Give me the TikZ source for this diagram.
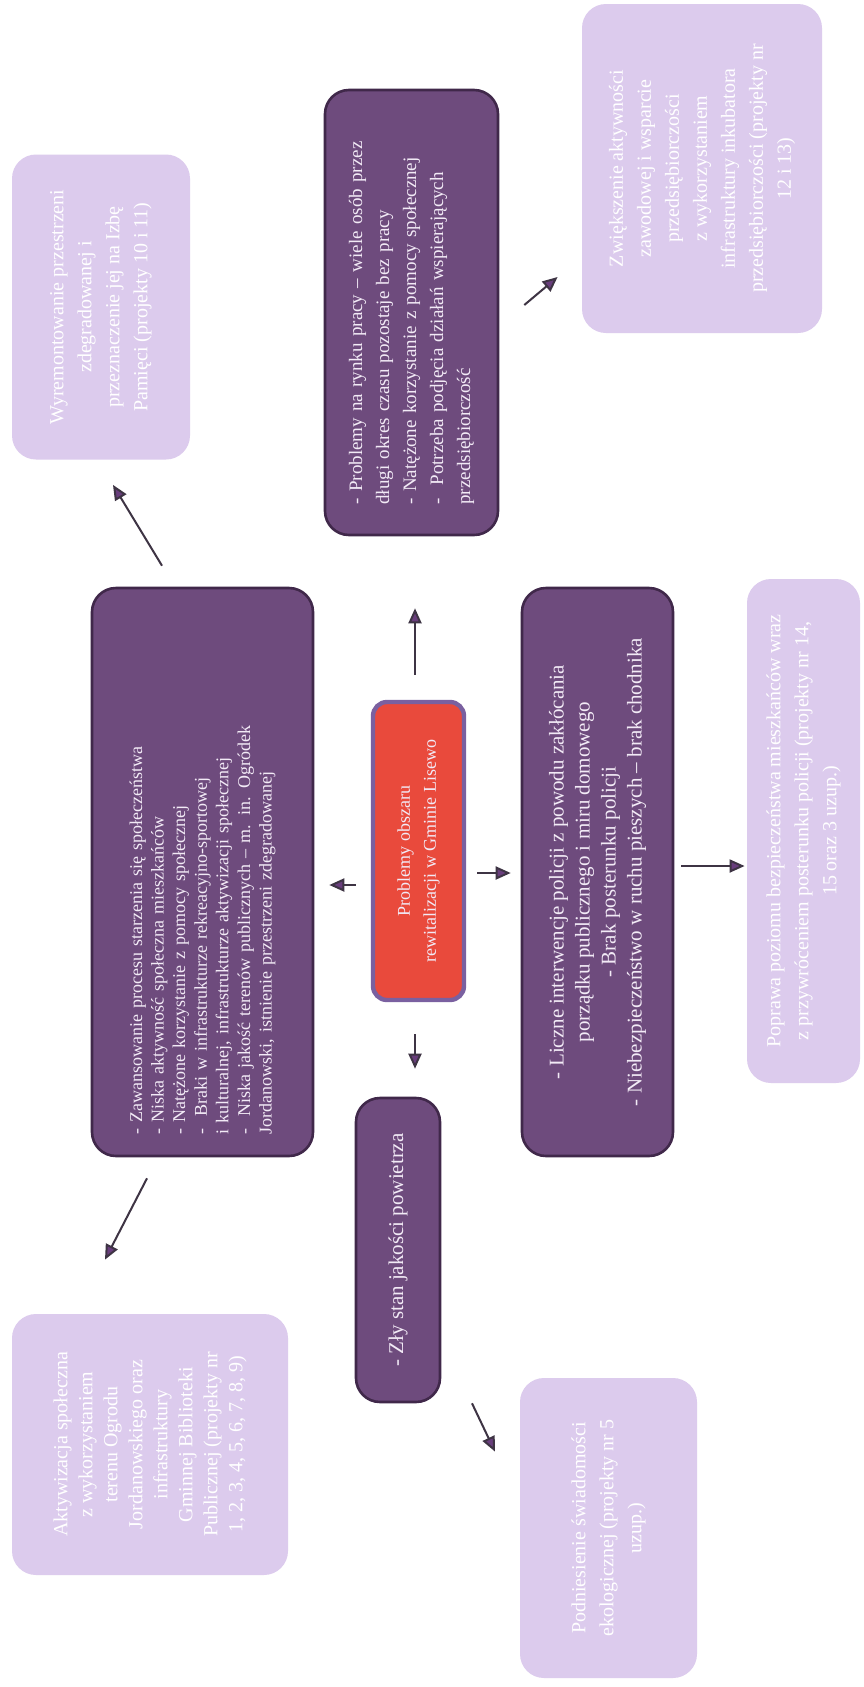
\documentclass[tikz,border=0pt]{standalone}
\usepackage{fontspec}
\setmainfont{Liberation Serif}
\usetikzlibrary{positioning,calc,arrows.meta}
\usepackage{xcolor}

\definecolor{ciemny}{RGB}{110,75,125}
\definecolor{ciemnyobrys}{RGB}{64,40,74}
\definecolor{jasny}{RGB}{220,203,237}
\definecolor{czerwony}{RGB}{233,74,60}
\definecolor{czerwonyobrys}{RGB}{122,96,160}
\definecolor{napis}{RGB}{242,234,246}
\definecolor{linia}{RGB}{62,52,68}
\definecolor{grot}{RGB}{105,62,125}

\begin{document}
\begin{tikzpicture}[x=0.5pt, y=-0.5pt,
    problem/.style={draw=ciemnyobrys, line width=1.3pt, fill=ciemny, rounded corners=12pt,
      rotate=90, text=napis, inner sep=4pt},
    cel/.style={fill=jasny, rounded corners=12pt, rotate=90, text=white, align=center,
      font=\fontsize{10}{14}\selectfont},
    glowny/.style={draw=czerwonyobrys, line width=2.2pt, fill=czerwony, rounded corners=7pt,
      rotate=90, text=napis, align=center, font=\fontsize{9}{13}\selectfont},
    strz/.style={draw=linia, line width=1pt, -{Triangle[length=7.5pt,width=6.5pt,fill=grot]}}]

    % page
    \fill[white] (0,0) rectangle (863,1687);
    \useasboundingbox (0,0) rectangle (863,1687);

    % Centre
    \node[glowny, minimum width=149pt, minimum height=45.5pt] (centrum) at (418.5,851)
      {Problemy obszaru\\ rewitalizacji w Gminie Lisewo};

    % Problems
    \node[problem, minimum width=222.5pt, minimum height=86.5pt, text width=192pt, align=left,
      font=\fontsize{9.5}{13.5}\selectfont] (praca) at (411.5,312.5)
      {- Problemy na rynku pracy -- wiele osób przez\\
       długi okres czasu pozostaje bez pracy\\
       - Natężone korzystanie z pomocy społecznej\\
       \makebox[\linewidth][s]{- \ Potrzeba podjęcia działań wspierających}\\
       przedsiębiorczość};
    \node[problem, minimum width=284pt, minimum height=110.5pt, text width=262pt, align=left,
      font=\fontsize{9}{10.8}\selectfont] (spol) at (202.5,872)
      {- Zawansowanie procesu starzenia się społeczeństwa\\
       - Niska aktywność społeczna mieszkańców\\
       - Natężone korzystanie z pomocy społecznej\\
       \makebox[\linewidth][s]{- \ Braki w infrastrukturze rekreacyjno-sportowej}\\
       i kulturalnej, infrastrukturze aktywizacji społecznej\\
       \makebox[\linewidth][s]{- \ Niska jakość terenów publicznych -- m. in. Ogródek}\\
       Jordanowski, istnienie przestrzeni zdegradowanej};
    \node[problem, minimum width=284pt, minimum height=75.5pt, align=center,
      font=\fontsize{10.5}{13}\selectfont] (bezp) at (597.5,872)
      {- Liczne interwencje policji z powodu zakłócania\\
       porządku publicznego i miru domowego\\
       - Brak posterunku policji\\
       - Niebezpieczeństwo w ruchu pieszych -- brak chodnika};
    \node[problem, minimum width=152pt, minimum height=42pt,
      font=\fontsize{10.5}{12}\selectfont] (powietrze) at (398,1250)
      {- Zły stan jakości powietrza};

    % Goals
    \node[cel, minimum width=152.5pt, minimum height=89pt] (izba) at (101,307)
      {Wyremontowanie przestrzeni\\ zdegradowanej i\\ przeznaczenie jej na Izbę\\ Pamięci (projekty 10 i 11)};
    \node[cel, minimum width=164.5pt, minimum height=120pt] (przedsieb) at (702,168.5)
      {Zwiększenie aktywności\\ zawodowej i wsparcie\\ przedsiębiorczości\\ z wykorzystaniem\\
       infrastruktury inkubatora\\ przedsiębiorczości (projekty nr\\ 12 i 13)};
    \node[cel, minimum width=252pt, minimum height=56.5pt] (poprawa) at (803.5,831)
      {Poprawa poziomu bezpieczeństwa mieszkańców wraz\\
       z przywróceniem posterunku policji (projekty nr 14,\\ 15 oraz 3 uzup.)};
    \node[cel, minimum width=130.5pt, minimum height=138pt,
      font=\fontsize{10}{12.5}\selectfont] (aktyw) at (150,1444.5)
      {Aktywizacja społeczna\\ z wykorzystaniem\\ terenu Ogrodu\\ Jordanowskiego oraz\\
       infrastruktury\\ Gminnej Biblioteki\\ Publicznej (projekty nr\\ 1, 2, 3, 4, 5, 6, 7, 8, 9)};
    \node[cel, minimum width=150pt, minimum height=88.5pt] (ekolog) at (608.5,1528)
      {Podniesienie świadomości\\ ekologicznej (projekty nr 5\\ uzup.)};

    % Arrows
    \draw[strz] ($(centrum.east)+(-3.5,-25)$) -- ($(praca.west)+(3.5,72)$);
    \draw[strz] ($(centrum.north)+(-15,34)$) -- ($(spol.south)+(15,13)$);
    \draw[strz] ($(centrum.south)+(11,22)$) -- ($(bezp.north)+(-10,1)$);
    \draw[strz] ($(centrum.west)+(-3.5,32)$) -- ($(powietrze.east)+(17,-28)$);
    \draw[strz] ($(spol.east)+(-40.5,-21)$) -- ($(izba.west)+(12,25)$);
    \draw[strz] ($(spol.west)+(-55.5,21)$) -- ($(aktyw.east)+(-45,-54)$);
    \draw[strz] ($(praca.south)+(25,-7.5)$) -- ($(przedsieb.north)+(-24,108.5)$);
    \draw[strz] ($(bezp.south)+(7,-6)$) -- ($(poprawa.north)+(-2,35)$);
    \draw[strz] ($(powietrze.west)+(74,0)$) -- ($(ekolog.east)+(-113.5,74)$);
\end{tikzpicture}
\end{document}
